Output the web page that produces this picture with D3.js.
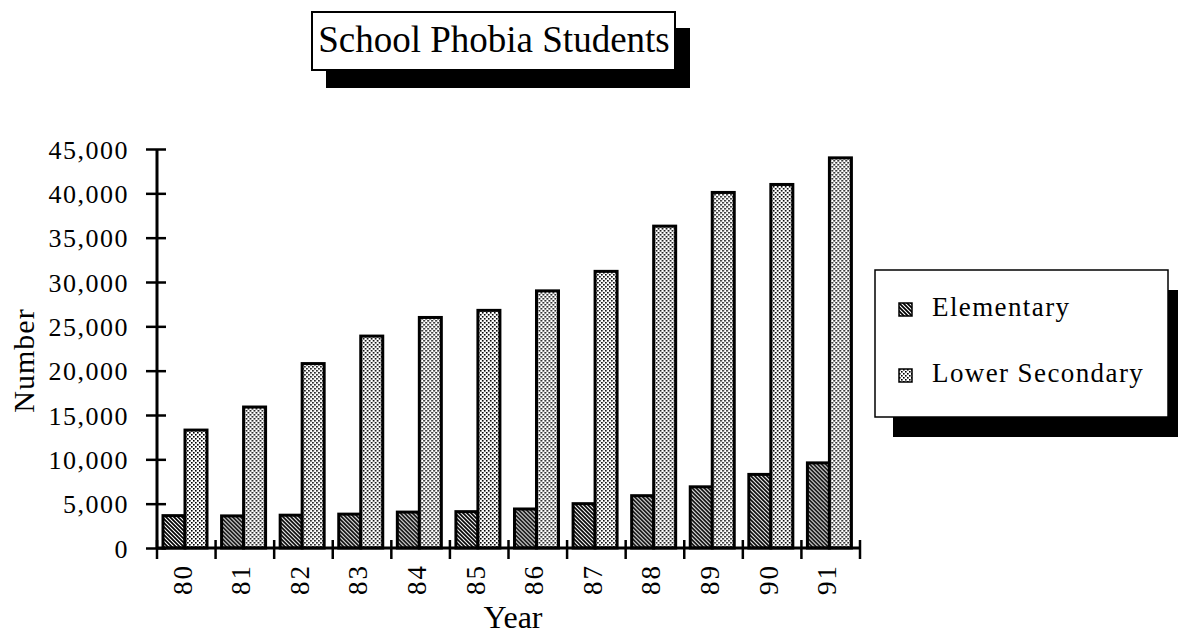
<!DOCTYPE html>
<html>
<head>
<meta charset="utf-8">
<script src="https://cdn.jsdelivr.net/npm/d3@7"></script>
<style>
    body { margin: 0; background: #fff; }
    svg text { font-family: "Liberation Serif", "Times New Roman", serif; fill: #000; }
</style>
</head>
<body>
<div id="chart"></div>
<script>
const years = ['80', '81', '82', '83', '84', '85', '86', '87', '88', '89', '90', '91'];
const seriesNames = ['Elementary', 'Lower Secondary'];
const elementary = [3650, 3620, 3700, 3820, 4050, 4100, 4400, 5000, 5900, 6900, 8300, 9600];
const lowerSecondary = [13300, 15900, 20800, 23900, 26000, 26800, 29000, 31200, 36300, 40100, 41000, 44000];
const yTicks = [0, 5000, 10000, 15000, 20000, 25000, 30000, 35000, 40000, 45000];

const width = 1178;
const height = 634;
const plotLeft = 157, plotRight = 860, plotTop = 149, plotBottom = 548;

const svg = d3.select('#chart')
    .append('svg')
    .attr('width', width)
    .attr('height', height);

// fill patterns
const defs = svg.append('defs');
const hatch = defs.append('pattern')
    .attr('id', 'hatch')
    .attr('patternUnits', 'userSpaceOnUse')
    .attr('width', 4)
    .attr('height', 4);
hatch.append('rect').attr('width', 4).attr('height', 4).attr('fill', '#fff');
hatch.append('path')
    .attr('d', 'M-1,-1 L5,5 M-1,3 L1,5 M3,-1 L5,1')
    .attr('stroke', '#000')
    .attr('stroke-width', 1.7);

const dots = defs.append('pattern')
    .attr('id', 'dots')
    .attr('patternUnits', 'userSpaceOnUse')
    .attr('width', 4)
    .attr('height', 4);
dots.append('rect').attr('width', 4).attr('height', 4).attr('fill', '#fff');
dots.append('rect').attr('x', 0).attr('y', 0).attr('width', 1.6).attr('height', 1.6).attr('fill', '#000');
dots.append('rect').attr('x', 2).attr('y', 2).attr('width', 1.6).attr('height', 1.6).attr('fill', '#000');

const fills = ['url(#hatch)', 'url(#dots)'];

// scales
const x0 = d3.scaleBand().domain(years).range([plotLeft, plotRight]).padding(0);
const x1 = d3.scaleBand().domain(seriesNames).range([6, 50]).padding(0);
const y = d3.scaleLinear().domain([0, 45000]).range([plotBottom, plotTop]);

const rows = years.map((yr, i) => ({ year: yr, values: [elementary[i], lowerSecondary[i]] }));

// bars
const groups = svg.append('g')
    .selectAll('g')
    .data(rows)
    .enter()
    .append('g')
    .attr('transform', d => `translate(${x0(d.year)},0)`);

groups.selectAll('rect')
    .data(d => d.values.map((v, k) => ({ name: seriesNames[k], value: v, k: k })))
    .enter()
    .append('rect')
    .attr('x', d => x1(d.name))
    .attr('width', x1.bandwidth())
    .attr('y', d => y(d.value))
    .attr('height', d => plotBottom - y(d.value))
    .attr('fill', d => fills[d.k])
    .attr('stroke', '#000')
    .attr('stroke-width', 3);

// y axis
const yAxis = d3.axisLeft(y)
    .tickValues(yTicks)
    .tickFormat(d3.format(','))
    .tickSize(11)
    .tickPadding(17);

const yAxisGroup = svg.append('g')
    .attr('transform', `translate(${plotLeft},0)`)
    .call(yAxis);
yAxisGroup.select('.domain').remove();
yAxisGroup.selectAll('.tick line')
    .attr('x1', 9)
    .attr('stroke', '#000')
    .attr('stroke-width', 2.5);
yAxisGroup.selectAll('.tick text')
    .style('font-size', '26px')
    .style('letter-spacing', '1.5px')
    .attr('dy', '0.35em');
yAxisGroup.append('line')
    .attr('y1', plotTop)
    .attr('y2', plotBottom)
    .attr('stroke', '#000')
    .attr('stroke-width', 3);

// x axis
const xAxis = d3.axisBottom(x0).tickSize(0).tickPadding(0);
const xAxisGroup = svg.append('g')
    .attr('transform', `translate(0,${plotBottom})`)
    .call(xAxis);
xAxisGroup.select('.domain').remove();
xAxisGroup.selectAll('.tick text')
    .style('font-size', '27px')
    .style('letter-spacing', '2px')
    .attr('text-anchor', 'end')
    .attr('transform', 'translate(-4,16) rotate(-90)')
    .attr('x', 0)
    .attr('y', 0)
    .attr('dy', '0.35em');
xAxisGroup.append('line')
    .attr('x1', plotLeft)
    .attr('x2', plotRight)
    .attr('stroke', '#000')
    .attr('stroke-width', 3);
xAxisGroup.selectAll('.edge')
    .data(years.concat(['end']))
    .enter()
    .append('line')
    .attr('class', 'edge')
    .attr('x1', d => d === 'end' ? plotRight : x0(d))
    .attr('x2', d => d === 'end' ? plotRight : x0(d))
    .attr('y1', -8)
    .attr('y2', 11)
    .attr('stroke', '#000')
    .attr('stroke-width', 2.5);

// axis titles
svg.append('text')
    .attr('transform', `translate(34,${(plotTop + plotBottom) / 2 + 12}) rotate(-90)`)
    .attr('text-anchor', 'middle')
    .style('font-size', '30px')
    .style('letter-spacing', '1px')
    .text('Number');

svg.append('text')
    .attr('x', 513)
    .attr('y', 628)
    .attr('text-anchor', 'middle')
    .style('font-size', '32px')
    .text('Year');

// title box
svg.append('rect')
    .attr('x', 326).attr('y', 28).attr('width', 364).attr('height', 60)
    .attr('fill', '#000');
svg.append('rect')
    .attr('x', 312).attr('y', 12).attr('width', 363).attr('height', 58)
    .attr('fill', '#fff').attr('stroke', '#000').attr('stroke-width', 2);
svg.append('text')
    .attr('x', 494).attr('y', 52)
    .attr('text-anchor', 'middle')
    .style('font-size', '37px')
    .text('School Phobia Students');

// legend
const legend = svg.append('g').attr('transform', 'translate(875,270)');
legend.append('rect')
    .attr('x', 18).attr('y', 20).attr('width', 300).attr('height', 147)
    .attr('fill', '#000');
legend.append('rect')
    .attr('width', 293).attr('height', 147)
    .attr('fill', '#fff').attr('stroke', '#000').attr('stroke-width', 1.5);
const items = legend.selectAll('.item')
    .data(seriesNames)
    .enter()
    .append('g')
    .attr('class', 'item')
    .attr('transform', (d, i) => `translate(24,${33 + i * 66})`);
items.append('rect')
    .attr('width', 13).attr('height', 13)
    .attr('fill', (d, i) => fills[i])
    .attr('stroke', '#000').attr('stroke-width', 1.5);
items.append('text')
    .attr('x', 33).attr('y', 13)
    .style('font-size', '27px')
    .style('letter-spacing', '1.4px')
    .text(d => d);
</script>
</body>
</html>
